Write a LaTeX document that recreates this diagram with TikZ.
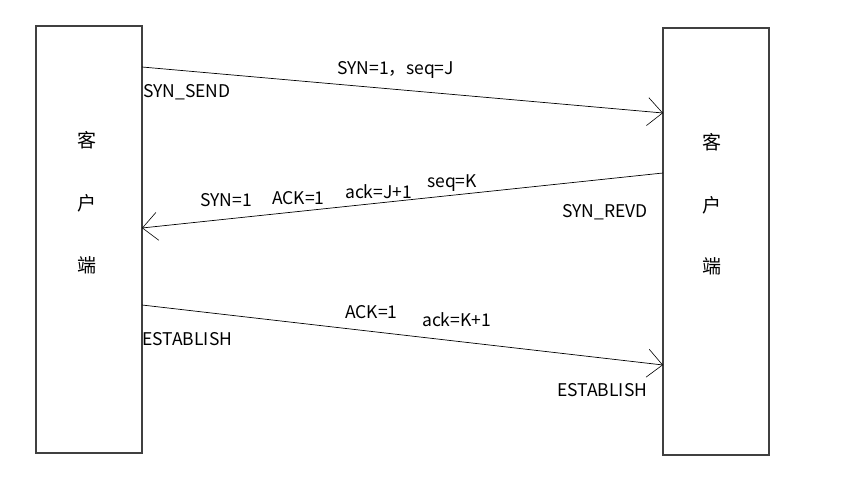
\documentclass[tikz,border=0pt]{standalone}
\usepackage{fontspec}
\setmainfont{Noto Sans CJK SC}
\usetikzlibrary{arrows.meta}
\begin{document}
\begin{tikzpicture}[x=1pt,y=-1pt,thin,
    host node/.style={draw,line width=1.2pt,draw=black!75,minimum width=106pt,minimum height=427pt,inner sep=0pt},
    msg/.style={-{Straight Barb[length=15pt,width=28pt,line width=0.6pt]},line width=0.7pt},
    lbl/.style={font=\fontsize{17.5}{20}\selectfont,inner sep=0pt},
    cn/.style={font=\fontsize{19}{21}\selectfont,inner sep=0pt}]
    \useasboundingbox (0,0) rectangle (841,484);

    \node[host node] at (89,239.5) (client) {};
    \node[host node] at (716,241.5) (server) {};

    \node[cn] at (87,140) (c1) {客};
    \node[cn] at (87,203) (c2) {户};
    \node[cn] at (87,265) (c3) {端};
    \node[cn] at (712,142) (s1) {客};
    \node[cn] at (712,205) (s2) {户};
    \node[cn] at (712,266) (s3) {端};

    \coordinate (a1) at (142,67);
    \coordinate (b1) at (663,113);
    \coordinate (b2) at (663,173);
    \coordinate (a2) at (142,228);
    \coordinate (a3) at (142,305);
    \coordinate (b3) at (663,365);

    \path[msg] (a1) edge (b1);
    \path[msg] (b2) edge (a2);
    \path[msg] (a3) edge (b3);

    \node[lbl,anchor=west] at (143,92) (synsend) {SYN\_SEND};
    \node[lbl,anchor=west] at (337,70) (syn1) {SYN=1，seq=J};
    \node[lbl,anchor=west] at (200,200) (syn2) {SYN=1};
    \node[lbl,anchor=west] at (272,198) (ack2) {ACK=1};
    \node[lbl,anchor=west] at (345,192) (ackj) {ack=J+1};
    \node[lbl,anchor=west] at (427,183) (seqk) {seq=K};
    \node[lbl,anchor=west] at (562,212) (synrevd) {SYN\_REVD};
    \node[lbl,anchor=west] at (142,339) (estl) {ESTABLISH};
    \node[lbl,anchor=west] at (345,312) (ack3) {ACK=1};
    \node[lbl,anchor=west] at (422,320) (ackk) {ack=K+1};
    \node[lbl,anchor=west] at (557,390) (estr) {ESTABLISH};
\end{tikzpicture}
\end{document}
